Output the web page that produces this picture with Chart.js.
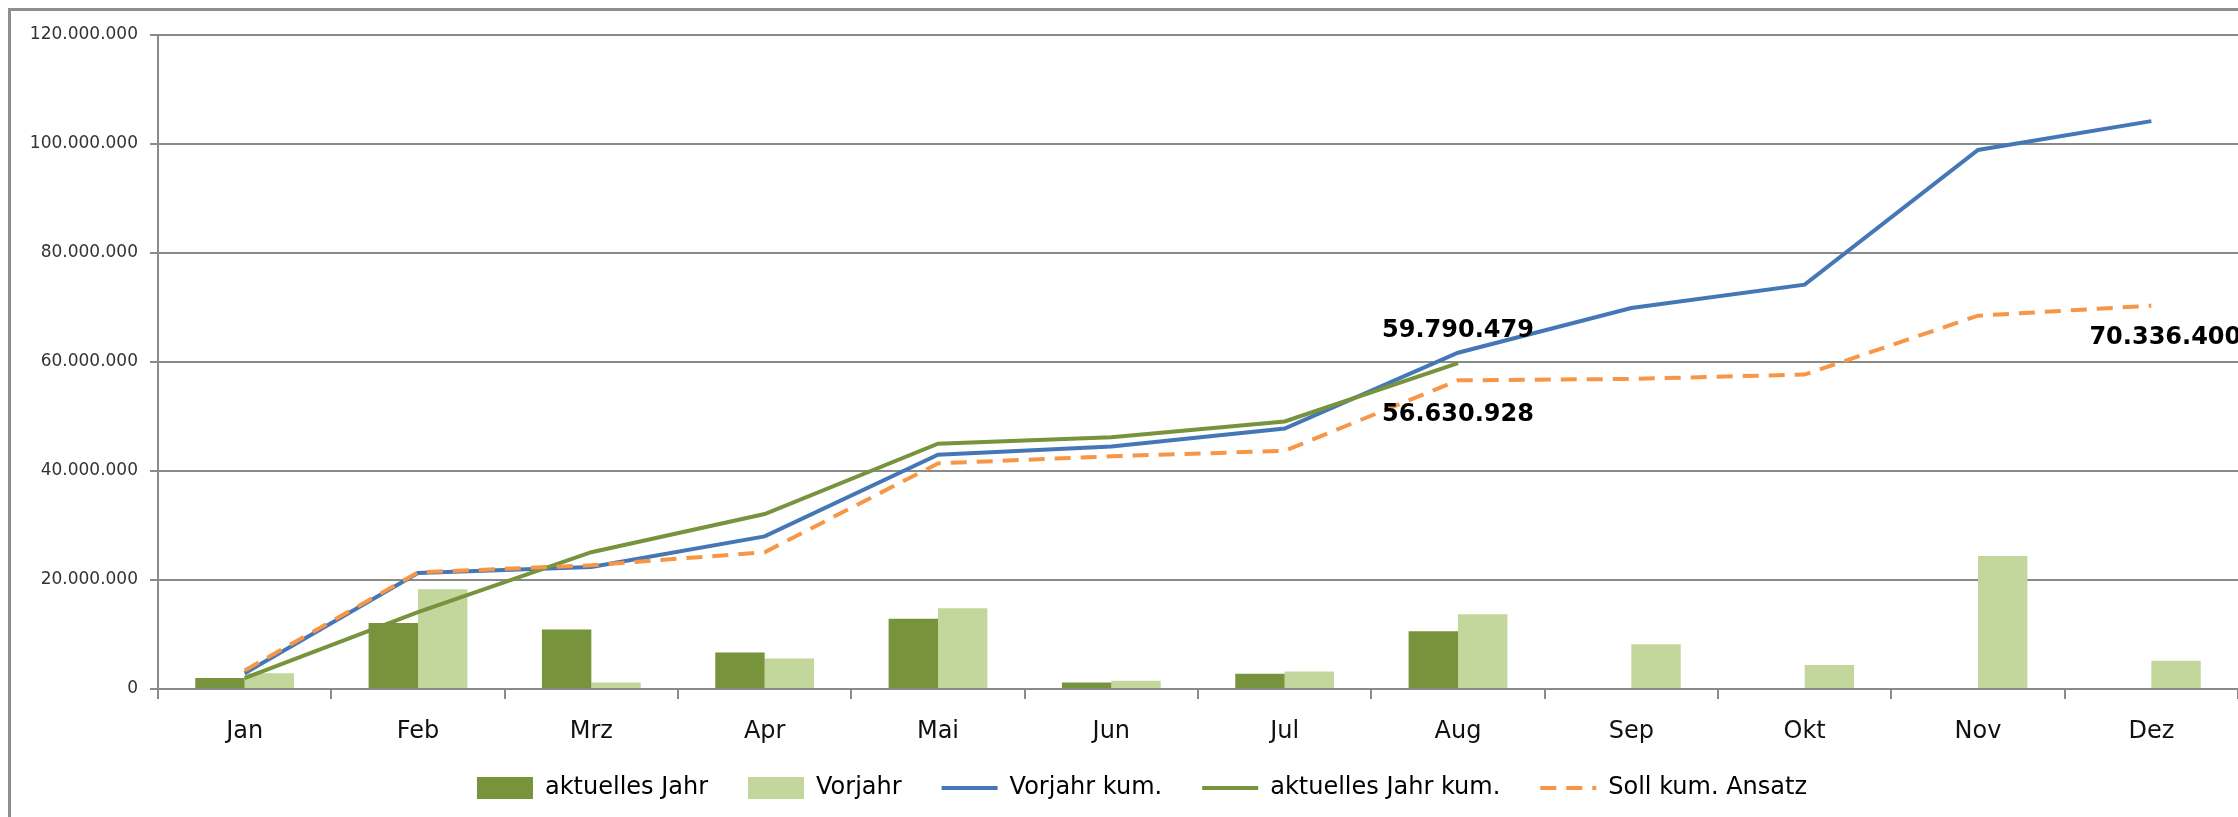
<!DOCTYPE html>
<html>
<head>
<meta charset="utf-8">
<script src="https://cdn.jsdelivr.net/npm/chart.js@4/dist/chart.umd.min.js"></script>
<style>
    html, body { margin: 0; padding: 0; background: #fff; overflow: hidden; }
    #frame {
        position: absolute; left: 8px; top: 8px;
        width: 2400px; height: 1000px;
        border: 3px solid #8e8e8e;
    }
    #wrap { position: absolute; left: 0; top: 0; width: 2238px; height: 817px; }
</style>
</head>
<body>
<div id="frame"></div>
<div id="wrap"><canvas id="chart" width="2238" height="817"></canvas></div>
<script>
// Months
const months = ['Jan', 'Feb', 'Mrz', 'Apr', 'Mai', 'Jun', 'Jul', 'Aug', 'Sep', 'Okt', 'Nov', 'Dez'];

// Monthly values
const aktuellesJahr = [2.0, 12.1, 10.9, 6.7, 12.9, 1.2, 2.8, 10.6, null, null, null, null].map(v => v === null ? null : v * 1e6);
const vorjahr = [2.9, 18.3, 1.2, 5.6, 14.8, 1.5, 3.2, 13.7, 8.2, 4.4, 24.4, 5.2].map(v => v * 1e6);

// Cumulative lines
const vorjahrKum = [2.9, 21.3, 22.4, 28.0, 43.0, 44.5, 47.8, 61.7, 69.9, 74.2, 98.9, 104.2].map(v => v * 1e6);
const aktuellesJahrKum = [2.0, 14.1, 25.1, 32.1, 45.0, 46.2, 49.1, 59.790479, null, null, null, null].map(v => v === null ? null : v * 1e6);
const sollKum = [3.4, 21.4, 22.7, 25.1, 41.4, 42.7, 43.7, 56.630928, 56.9, 57.7, 68.5, 70.3364].map(v => v * 1e6);

// Y axis ticks
const yMax = 120000000;
const yStep = 20000000;

const COLORS = {
    DARK_GREEN: '#77933C',
    LIGHT_GREEN: '#C3D69B',
    BLUE: '#4577B6',
    GREEN_LINE: '#77933C',
    ORANGE: '#F79646',
    GRID: '#8a8a8a'
};

const FONT = "'DejaVu Sans', sans-serif";

function fmt(v) {
    return Math.round(v).toString().replace(/\B(?=(\d{3})+(?!\d))/g, '.');
}

// Data labels drawn beside selected points
const valueLabels = {
    id: 'valueLabels',
    afterDatasetsDraw(chart) {
        const ctx = chart.ctx;
        const marks = [
            { ds: 3, idx: 7, dy: -32 },
            { ds: 4, idx: 7, dy: 34 },
            { ds: 4, idx: 11, dy: 32, dx: 14 }
        ];
        ctx.save();
        ctx.font = "bold 24px " + FONT;
        ctx.fillStyle = '#000';
        ctx.textAlign = 'center';
        ctx.textBaseline = 'middle';
        marks.forEach(m => {
            const pt = chart.getDatasetMeta(m.ds).data[m.idx];
            const val = chart.data.datasets[m.ds].data[m.idx];
            ctx.fillText(fmt(val), pt.x + (m.dx || 0), pt.y + m.dy);
        });
        ctx.restore();
    }
};

// Nudge the legend without touching the plot area
const legendShift = {
    id: 'legendShift',
    afterLayout(chart) {
        const lg = chart.legend;
        if (lg) {
            lg.top -= 7;
            lg.bottom -= 7;
            lg.left += 23;
            lg.right += 23;
        }
    }
};

const ctx = document.getElementById('chart').getContext('2d');

new Chart(ctx, {
    type: 'bar',
    data: {
        labels: months,
        datasets: [
            {
                label: 'aktuelles Jahr',
                data: aktuellesJahr,
                backgroundColor: COLORS.DARK_GREEN,
                order: 10
            },
            {
                label: 'Vorjahr',
                data: vorjahr,
                backgroundColor: COLORS.LIGHT_GREEN,
                order: 10
            },
            {
                type: 'line',
                label: 'Vorjahr kum.',
                data: vorjahrKum,
                borderColor: COLORS.BLUE,
                backgroundColor: COLORS.BLUE,
                borderWidth: 4,
                pointRadius: 0,
                tension: 0,
                order: 3
            },
            {
                type: 'line',
                label: 'aktuelles Jahr kum.',
                data: aktuellesJahrKum,
                borderColor: COLORS.GREEN_LINE,
                backgroundColor: COLORS.GREEN_LINE,
                borderWidth: 4,
                pointRadius: 0,
                tension: 0,
                spanGaps: false,
                order: 2
            },
            {
                type: 'line',
                label: 'Soll kum. Ansatz',
                data: sollKum,
                borderColor: COLORS.ORANGE,
                backgroundColor: COLORS.ORANGE,
                borderWidth: 4,
                borderDash: [16, 10],
                pointRadius: 0,
                tension: 0,
                order: 1
            }
        ]
    },
    options: {
        responsive: false,
        animation: false,
        devicePixelRatio: 1,
        layout: {
            padding: { top: 35, left: 0, right: 0, bottom: 0 }
        },
        datasets: {
            bar: {
                categoryPercentage: 0.57,
                barPercentage: 1.0
            }
        },
        plugins: {
            tooltip: { enabled: false },
            legend: {
                display: true,
                position: 'bottom',
                labels: {
                    usePointStyle: true,
                    pointStyleWidth: 56,
                    boxHeight: 22,
                    padding: 40,
                    color: '#000',
                    font: { family: FONT, size: 24 },
                    generateLabels(chart) {
                        const items = Chart.defaults.plugins.legend.labels.generateLabels(chart);
                        items.forEach(it => {
                            const ds = chart.data.datasets[it.datasetIndex];
                            if (ds.type === 'line') {
                                it.pointStyle = 'line';
                                it.lineWidth = 4;
                                it.strokeStyle = ds.borderColor;
                                it.lineDash = ds.borderDash || [];
                            } else {
                                it.pointStyle = 'rect';
                                it.lineWidth = 0;
                            }
                        });
                        return items.sort((a, b) => a.datasetIndex - b.datasetIndex);
                    }
                }
            }
        },
        scales: {
            x: {
                offset: true,
                grid: {
                    display: true,
                    offset: true,
                    drawOnChartArea: false,
                    drawTicks: true,
                    tickLength: 10,
                    color: COLORS.GRID,
                    lineWidth: 2
                },
                border: { display: true, color: COLORS.GRID, width: 2 },
                ticks: {
                    color: '#111',
                    padding: 18,
                    font: { family: FONT, size: 24 }
                },
                afterFit(scale) { scale.height = 54; }
            },
            y: {
                min: 0,
                max: yMax,
                grid: {
                    color: COLORS.GRID,
                    lineWidth: 2,
                    tickLength: 8
                },
                border: { display: true, color: COLORS.GRID, width: 2 },
                ticks: {
                    stepSize: yStep,
                    color: '#333',
                    padding: 12,
                    font: { family: FONT, size: 17 },
                    callback: v => fmt(v)
                },
                afterFit(scale) { scale.width = 158; }
            }
        }
    },
    plugins: [valueLabels, legendShift]
});
</script>
</body>
</html>
